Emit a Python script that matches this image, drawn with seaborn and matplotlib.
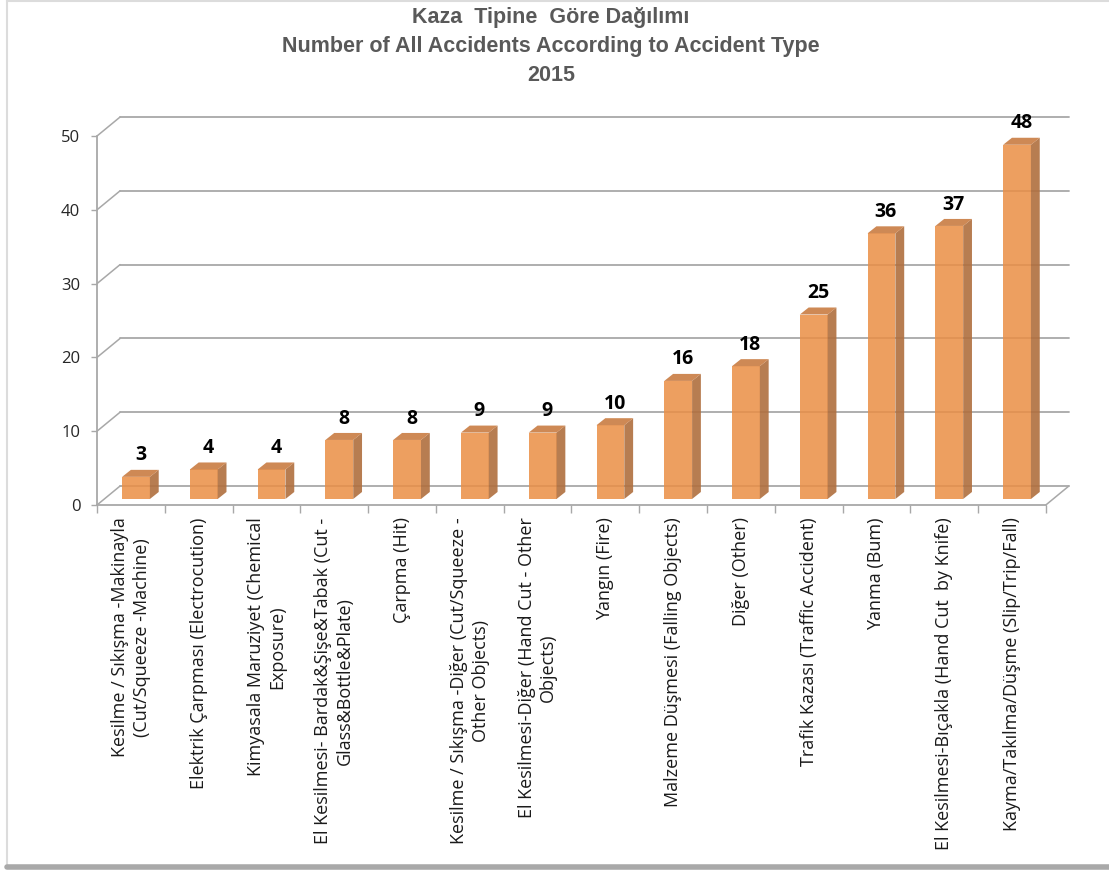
import numpy as np
import matplotlib
matplotlib.use('Agg')
import matplotlib.pyplot as plt
from matplotlib.patches import Polygon
from matplotlib.lines import Line2D
import seaborn as sns

# data
categories = [
    "Kesilme / Sıkışma -Makinayla\n(Cut/Squeeze -Machine)",
    "Elektrik Çarpması (Electrocution)",
    "Kimyasala Maruziyet (Chemical\nExposure)",
    "El Kesilmesi- Bardak&Şişe&Tabak (Cut -\nGlass&Bottle&Plate)",
    "Çarpma (Hit)",
    "Kesilme / Sıkışma -Diğer (Cut/Squeeze -\nOther Objects)",
    "El Kesilmesi-Diğer (Hand Cut - Other\nObjects)",
    "Yangın (Fire)",
    "Malzeme Düşmesi (Falling Objects)",
    "Diğer (Other)",
    "Trafik Kazası (Traffic Accident)",
    "Yanma (Bum)",
    "El Kesilmesi-Bıçakla (Hand Cut  by Knife)",
    "Kayma/Takılma/Düşme (Slip/Trip/Fall)",
]
values = [3, 4, 4, 8, 8, 9, 9, 10, 16, 18, 25, 36, 37, 48]
yticks = [0, 10, 20, 30, 40, 50]

title_lines = ["Kaza  Tipine  Göre Dağılımı",
               "Number of All Accidents According to Accident Type",
               "2015"]

FRONT = '#EA8F46'
SIDE = '#B06F3E'
TOP = '#C97C42'
GRID = '#A8A8A8'

# 3d look: wall depth and bar depth in data units
WALL_DX, WALL_DY = 0.34, 2.57
BAR_OFF_X, BAR_OFF_Y = 0.075, 0.81
BAR_DX, BAR_DY = 0.13, 0.95

sns.set_style('white')
plt.rcParams['font.family'] = ['Open Sans', 'DejaVu Sans']

fig = plt.figure(figsize=(11.09, 8.77), dpi=100)
ax = fig.add_axes([0.0875, 0.4242, 0.880, 0.4544])

sns.barplot(x=categories, y=values, color=FRONT, saturation=1, width=0.41,
            alpha=0.86, ax=ax, zorder=3)

n = len(categories)
# back wall gridlines + left wall diagonals
for v in yticks:
    ax.plot([-0.5 + WALL_DX, n - 0.5 + WALL_DX], [v + WALL_DY, v + WALL_DY],
            color=GRID, lw=1.3, zorder=1)
    ax.plot([-0.5, -0.5 + WALL_DX], [v, v + WALL_DY], color=GRID, lw=1.1, zorder=1)
ax.plot([n - 0.5, n - 0.5 + WALL_DX], [0, WALL_DY], color=GRID, lw=1.1, zorder=1)

# shift bars to mid-depth and add side / top faces
for p in ax.patches[:n]:
    p.set_x(p.get_x() + BAR_OFF_X)
    p.set_y(BAR_OFF_Y)
    p.set_edgecolor('none')
    x0 = p.get_x()
    x1 = x0 + p.get_width()
    y0 = p.get_y()
    y1 = y0 + p.get_height()
    side = Polygon([(x1, y0), (x1 + BAR_DX, y0 + BAR_DY),
                    (x1 + BAR_DX, y1 + BAR_DY), (x1, y1)],
                   closed=True, facecolor=SIDE, alpha=0.9, edgecolor='none', zorder=3)
    top = Polygon([(x0, y1), (x0 + BAR_DX, y1 + BAR_DY),
                   (x1 + BAR_DX, y1 + BAR_DY), (x1, y1)],
                  closed=True, facecolor=TOP, alpha=0.9, edgecolor='none', zorder=3)
    ax.add_patch(side)
    ax.add_patch(top)
    ax.text((x0 + x1) / 2 + BAR_DX / 2, y1 + BAR_DY + 0.6,
            f"{p.get_height():.0f}", ha='center', va='bottom',
            fontsize=14, fontweight='bold', color='black', zorder=5)

ax.set_xlim(-0.5, n - 0.1)
ax.set_ylim(0, 54)

for s in ['top', 'right']:
    ax.spines[s].set_visible(False)
ax.spines['left'].set_bounds(0, 50)
ax.spines['bottom'].set_bounds(-0.5, n - 0.5)
for s in ['left', 'bottom']:
    ax.spines[s].set_color(GRID)
    ax.spines[s].set_linewidth(1.3)

ax.set_yticks(yticks)
ax.set_yticklabels([str(v) for v in yticks], fontsize=12, color='#262626')
ax.tick_params(axis='y', length=4, width=1, color=GRID, pad=8, left=True)

ax.set_xticks(range(n))
ax.set_xticklabels(categories, rotation=90, fontsize=13, color='#1a1a1a',
                   ha='center', va='top', multialignment='center', linespacing=1.25)
ax.tick_params(axis='x', which='major', length=0, pad=9)
ax.set_xticks(np.arange(-0.5, n, 1.0), minor=True)
ax.tick_params(axis='x', which='minor', length=6, width=1, color=GRID, bottom=True)
ax.set_xlabel('')
ax.set_ylabel('')

fig.text(0.497, 0.992, "\n".join(title_lines), ha='center', va='top',
         fontsize=15.5, fontweight='bold', color='#595959',
         family=['Liberation Sans', 'DejaVu Sans'], linespacing=1.5)

# chart frame
fig.add_artist(Line2D([0.006, 0.006], [0.012, 1.0], color='#DCDCDC', lw=1.5))
fig.add_artist(Line2D([0.006, 1.0], [0.999, 0.999], color='#DCDCDC', lw=1.5))
fig.add_artist(Line2D([0.006, 1.0], [0.0115, 0.0115], color='#A9A9A9', lw=4))

plt.savefig('out.png', dpi=100, facecolor='white')
plt.close()
